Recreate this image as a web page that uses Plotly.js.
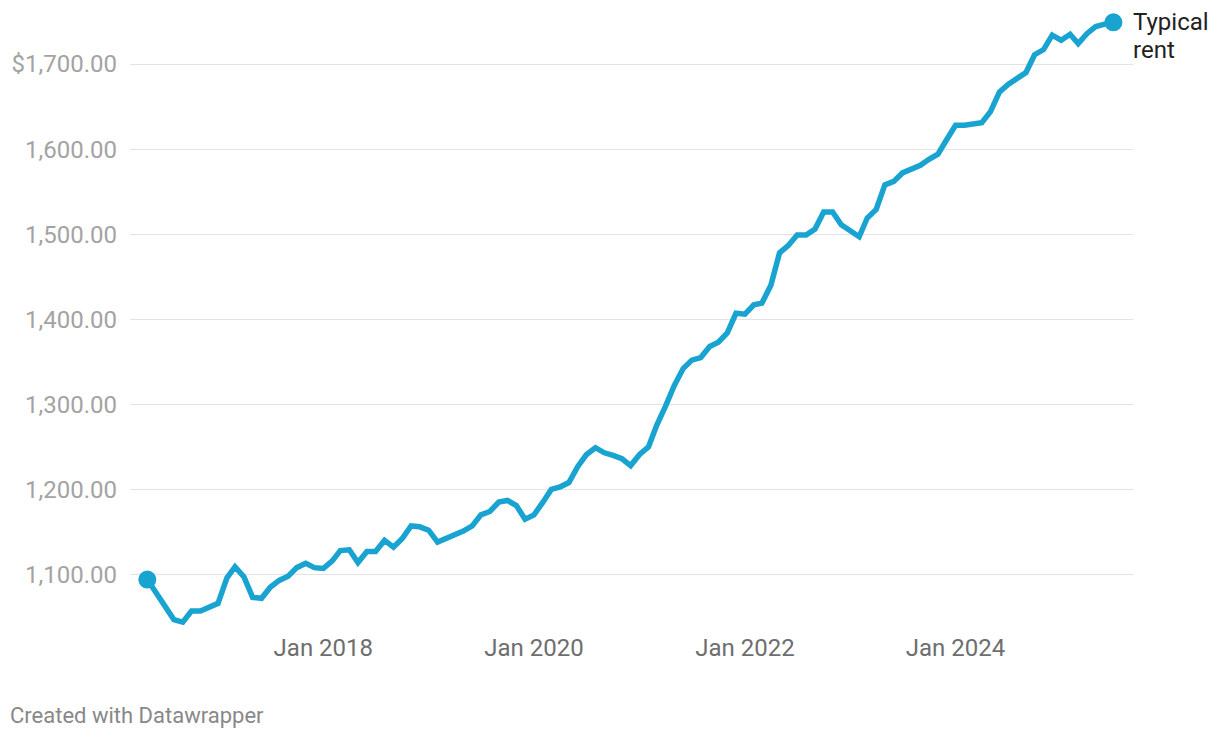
<!DOCTYPE html>
<html>
<head>
<meta charset="utf-8">
<script src="https://cdn.plot.ly/plotly-3.0.1.min.js"></script>
<style>
html,body{margin:0;padding:0;background:#fff;}
#chart{width:1220px;height:738px;}
</style>
</head>
<body>
<div id="chart"></div>
<script>
// Monthly series, May 2016 .. Jul 2025
const startMonth = "2016-05";
const typicalRent = [
  1094, 1078, 1062, 1047, 1044, 1057, 1057, 1061,
  1066, 1096, 1109, 1097, 1073, 1072, 1085, 1093, 1098, 1108, 1113, 1108,
  1107, 1116, 1128, 1129, 1114, 1127, 1127, 1140, 1132, 1142, 1157, 1156,
  1152, 1138, 1142, 1146,
  1151, 1157, 1170, 1174, 1185, 1187, 1181, 1165, 1170, 1185, 1200, 1203,
  1208, 1227, 1241, 1249, 1243, 1240, 1236, 1228, 1241, 1250, 1275, 1298,
  1322, 1342, 1352, 1355, 1368, 1373, 1384, 1407, 1406, 1417, 1419, 1440,
  1478, 1487, 1499, 1499, 1506, 1526, 1526, 1511, 1503, 1497, 1519, 1529,
  1558, 1562, 1572, 1576, 1581, 1588, 1594, 1611, 1628, 1628, 1630, 1631,
  1644, 1667, 1676, 1684, 1690, 1711, 1717, 1734, 1728, 1735, 1724, 1736,
  1744, 1747, 1749
];
const labelLines = ["Typical", "rent"];
const xTickVals = ["2018-01-01", "2020-01-01", "2022-01-01", "2024-01-01"];
const xTickText = ["Jan 2018", "Jan 2020", "Jan 2022", "Jan 2024"];
const yTickVals = [1100, 1200, 1300, 1400, 1500, 1600, 1700];
const yTickText = ["1,100.00", "1,200.00", "1,300.00", "1,400.00", "1,500.00", "1,600.00", "$1,700.00"];
const footer = "Created with Datawrapper";

function monthDates(start, n) {
  const [y0, m0] = start.split("-").map(Number);
  const out = [];
  for (let i = 0; i < n; i++) {
    const t = (m0 - 1) + i;
    const y = y0 + Math.floor(t / 12);
    const m = (t % 12) + 1;
    out.push(y + "-" + String(m).padStart(2, "0") + "-01");
  }
  return out;
}
const dates = monthDates(startMonth, typicalRent.length);
const blue = "#18a3d0";
const last = typicalRent.length - 1;

const traces = [
  {
    x: dates, y: typicalRent, type: "scatter", mode: "lines",
    line: {color: blue, width: 5.5, shape: "linear"},
    hoverinfo: "skip", showlegend: false
  },
  {
    x: [dates[0], dates[last]], y: [typicalRent[0], typicalRent[last]],
    type: "scatter", mode: "markers",
    marker: {color: blue, size: 18},
    hoverinfo: "skip", showlegend: false
  }
];

const layout = {
  width: 1220, height: 738,
  paper_bgcolor: "#fff", plot_bgcolor: "#fff",
  margin: {l: 130, r: 87, t: 12.6, b: 104.4},
  font: {family: "Roboto, sans-serif"},
  showlegend: false,
  xaxis: {
    type: "date",
    range: ["2016-03-02", "2025-09-07"],
    tickvals: xTickVals, ticktext: xTickText,
    showgrid: false, zeroline: false, showline: false, ticks: "",
    ticklabelstandoff: -3,
    tickfont: {size: 24, color: "#6e6e6e"},
    fixedrange: true
  },
  yaxis: {
    range: [1030, 1760],
    tickvals: yTickVals, ticktext: yTickText,
    showgrid: true, gridcolor: "#e3e3e3", gridwidth: 1,
    zeroline: false, showline: false, ticks: "",
    ticklabelstandoff: 12,
    tickfont: {size: 24, color: "#a3a3a3"},
    fixedrange: true
  },
  annotations: [
    {
      x: dates[last], y: typicalRent[last], xref: "x", yref: "y",
      text: labelLines[0], showarrow: false,
      xanchor: "left", yanchor: "middle", align: "left",
      xshift: 18, yshift: 0,
      font: {size: 24, color: "#222222"}
    },
    {
      x: dates[last], y: typicalRent[last], xref: "x", yref: "y",
      text: labelLines[1], showarrow: false,
      xanchor: "left", yanchor: "middle", align: "left",
      xshift: 18, yshift: -28,
      font: {size: 24, color: "#222222"}
    },
    {
      x: -0.1216, y: -0.131, xref: "paper", yref: "paper",
      text: footer, showarrow: false,
      xanchor: "left", yanchor: "middle",
      font: {size: 22, color: "#888888"}
    }
  ]
};

Plotly.newPlot("chart", traces, layout, {displayModeBar: false, staticPlot: true});
</script>
</body>
</html>
